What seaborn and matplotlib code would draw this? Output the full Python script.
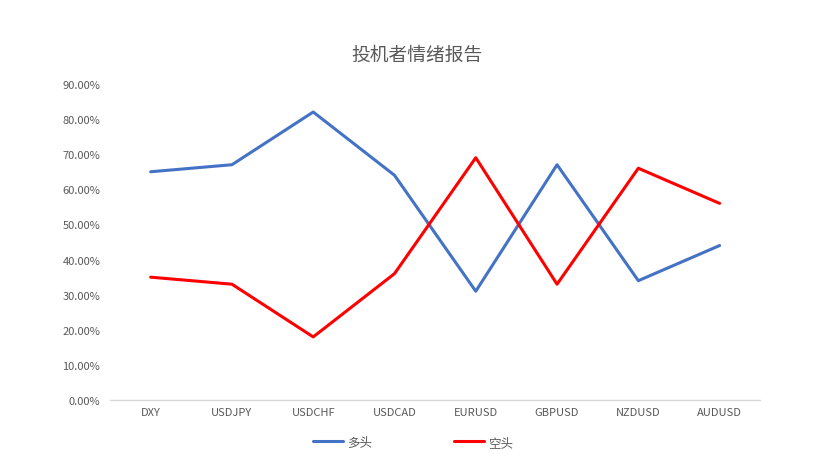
import matplotlib
matplotlib.use("Agg")
import matplotlib.pyplot as plt
import seaborn as sns
import pandas as pd
from matplotlib.ticker import PercentFormatter

categories = ["DXY", "USDJPY", "USDCHF", "USDCAD", "EURUSD", "GBPUSD", "NZDUSD", "AUDUSD"]
long_vals = [0.65, 0.67, 0.82, 0.64, 0.31, 0.67, 0.34, 0.44]
short_vals = [0.35, 0.33, 0.18, 0.36, 0.69, 0.33, 0.66, 0.56]
series_names = ["多头", "空头"]
title = "投机者情绪报告"

sns.set_theme(style="white")
plt.rcParams['font.family'] = ['Noto Sans CJK SC', 'DejaVu Sans']

df = pd.DataFrame({
    "cat": categories * 2,
    "val": long_vals + short_vals,
    "series": [series_names[0]] * len(categories) + [series_names[1]] * len(categories),
})
df["x"] = list(range(len(categories))) * 2

fig = plt.figure(figsize=(8.21, 4.77), dpi=100)
ax = fig.add_axes([0.134, 0.159, 0.792, 0.663])
sns.lineplot(data=df, x="x", y="val", hue="series", palette=["#4472C4", "#FF0000"],
             linewidth=2.2, ax=ax, legend=True)

ax.set_xlim(-0.5, len(categories) - 0.5)
ax.set_ylim(0, 0.9)
ax.set_yticks([i / 10 for i in range(10)])
ax.yaxis.set_major_formatter(PercentFormatter(1.0, decimals=2))
ax.set_xticks(range(len(categories)))
ax.set_xticklabels(categories)
ax.tick_params(axis="both", labelsize=8, colors="#595959", length=0)
ax.tick_params(axis="x", pad=5)
ax.tick_params(axis="y", pad=7)
ax.set_xlabel("")
ax.set_ylabel("")
for s in ["top", "right", "left"]:
    ax.spines[s].set_visible(False)
ax.spines["bottom"].set_color("#D9D9D9")
ax.spines["bottom"].set_linewidth(1)

fig.text(0.508, 0.885, title, ha="center", va="center", fontsize=13.5, color="#595959")

handles, labels = ax.get_legend_handles_labels()
ax.legend(handles, labels, loc="center", bbox_to_anchor=(0.466, -0.133), ncol=2,
          frameon=False, fontsize=9, labelcolor="#595959", handlelength=2.4,
          columnspacing=6.6, handletextpad=0.3)

fig.savefig("out.png", dpi=100)
